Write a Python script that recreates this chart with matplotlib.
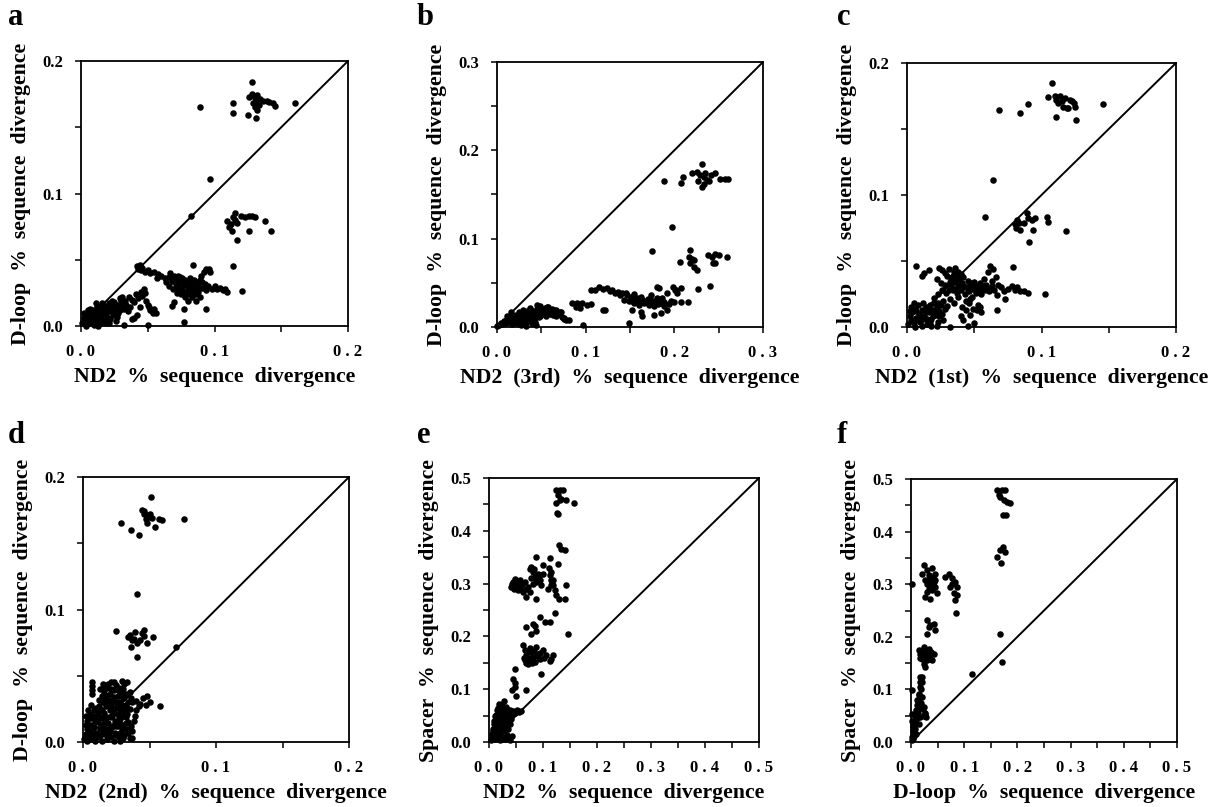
import numpy as np
import matplotlib.pyplot as plt
from matplotlib.ticker import MultipleLocator

plt.rcParams['font.family'] = ['Liberation Serif', 'DejaVu Serif']
plt.rcParams['font.weight'] = 'bold'

W, H = 1219, 807

# ---------- data (x, y) ----------
a_pts = [
    # top cluster
    (0.128, 0.184), (0.089, 0.165), (0.114, 0.168), (0.114, 0.161), (0.125, 0.159), (0.131, 0.157),
    (0.160, 0.168), (0.126, 0.173), (0.128, 0.175), (0.130, 0.172), (0.131, 0.170), (0.132, 0.174),
    (0.134, 0.171), (0.129, 0.168), (0.130, 0.165), (0.133, 0.167), (0.136, 0.170), (0.139, 0.170),
    (0.141, 0.169), (0.144, 0.168), (0.145, 0.166), (0.132, 0.163),
    (0.097, 0.111), (0.0825, 0.083),
    # middle cluster
    (0.109, 0.0795), (0.112, 0.077), (0.111, 0.0745), (0.114, 0.082), (0.1155, 0.085), (0.117, 0.078),
    (0.113, 0.072), (0.117, 0.065), (0.123, 0.082), (0.1255, 0.083), (0.128, 0.083), (0.130, 0.0825),
    (0.126, 0.0715), (0.138, 0.079), (0.142, 0.072), (0.115, 0.080), (0.120, 0.083),
    (0.114, 0.045), (0.1205, 0.0265), (0.084, 0.046),
    # band along diagonal
    (0.042, 0.045), (0.043, 0.043), (0.044, 0.046), (0.045, 0.042), (0.046, 0.044), (0.048, 0.041),
    (0.050, 0.042), (0.052, 0.040), (0.055, 0.041), (0.058, 0.039), (0.060, 0.038), (0.057, 0.036),
    # main blob
    (0.063, 0.036), (0.066, 0.037), (0.068, 0.034), (0.070, 0.038), (0.071, 0.032), (0.072, 0.035),
    (0.073, 0.030), (0.074, 0.037), (0.075, 0.033), (0.076, 0.028), (0.077, 0.031), (0.078, 0.035),
    (0.079, 0.026), (0.080, 0.030), (0.081, 0.033), (0.082, 0.028), (0.083, 0.031), (0.084, 0.025),
    (0.085, 0.029), (0.086, 0.033), (0.087, 0.027), (0.088, 0.030), (0.089, 0.035), (0.090, 0.038),
    (0.091, 0.029), (0.092, 0.041), (0.093, 0.032), (0.094, 0.043), (0.095, 0.030), (0.096, 0.043),
    (0.066, 0.030), (0.069, 0.028), (0.072, 0.025), (0.075, 0.024), (0.078, 0.022), (0.081, 0.024),
    (0.083, 0.022), (0.086, 0.024), (0.089, 0.022),
    (0.064, 0.033), (0.067, 0.040), (0.070, 0.034), (0.073, 0.038), (0.076, 0.036), (0.079, 0.033),
    (0.082, 0.036), (0.085, 0.035), (0.088, 0.026), (0.091, 0.033), (0.094, 0.027), (0.097, 0.041),
    (0.071, 0.028), (0.074, 0.027), (0.077, 0.025), (0.080, 0.027), (0.084, 0.028),
    (0.098, 0.028), (0.100, 0.030), (0.102, 0.028), (0.104, 0.029), (0.106, 0.027), (0.108, 0.028),
    (0.109, 0.026),
    (0.070, 0.018), (0.077, 0.013), (0.080, 0.019), (0.086, 0.019), (0.094, 0.013), (0.077, 0.003),
    (0.068, 0.015),
    # second blob
    (0.036, 0.022), (0.038, 0.020), (0.040, 0.018), (0.041, 0.024), (0.043, 0.021), (0.045, 0.026),
    (0.046, 0.023), (0.047, 0.028), (0.048, 0.025), (0.049, 0.019), (0.050, 0.016), (0.051, 0.014),
    (0.052, 0.012), (0.053, 0.011), (0.054, 0.010), (0.055, 0.013), (0.056, 0.010), (0.044, 0.014),
    (0.042, 0.008), (0.040, 0.006), (0.038, 0.005), (0.050, 0.001), (0.032, 0.001), (0.034, 0.016),
    (0.030, 0.019), (0.032, 0.013),
    # near origin
    (0.001, 0.002), (0.002, 0.006), (0.003, 0.004), (0.004, 0.007), (0.005, 0.002), (0.006, 0.005),
    (0.007, 0.008), (0.008, 0.003), (0.009, 0.006), (0.010, 0.009), (0.011, 0.004), (0.012, 0.012),
    (0.013, 0.007), (0.014, 0.010), (0.015, 0.014), (0.016, 0.006), (0.017, 0.011), (0.018, 0.015),
    (0.019, 0.009), (0.020, 0.013), (0.021, 0.017), (0.022, 0.011), (0.023, 0.015), (0.024, 0.008),
    (0.025, 0.018), (0.026, 0.013), (0.027, 0.016), (0.028, 0.010), (0.029, 0.021), (0.012, 0.015),
    (0.010, 0.001), (0.014, 0.002), (0.018, 0.004), (0.022, 0.005), (0.026, 0.004), (0.004, 0.000),
    (0.008, 0.010), (0.016, 0.017), (0.020, 0.006), (0.013, 0.000),
    (0.003, 0.009), (0.006, 0.010), (0.009, 0.012), (0.011, 0.008), (0.015, 0.009), (0.019, 0.012),
    (0.023, 0.019), (0.027, 0.007), (0.025, 0.011), (0.017, 0.003), (0.021, 0.002), (0.030, 0.015),
    (0.033, 0.019), (0.029, 0.012),
    (0.002, 0.010), (0.005, 0.012), (0.007, 0.013), (0.011, 0.017), (0.015, 0.004), (0.019, 0.002),
    (0.024, 0.012), (0.031, 0.022), (0.035, 0.011), (0.037, 0.014),
]

b_pts = [
    (0.188, 0.165), (0.197, 0.1135), (0.175, 0.086),
    (0.210, 0.170), (0.208, 0.163), (0.220, 0.174), (0.231, 0.185), (0.229, 0.172), (0.225, 0.176),
    (0.233, 0.170), (0.235, 0.174), (0.231, 0.158), (0.237, 0.166), (0.241, 0.172), (0.239, 0.165),
    (0.246, 0.174), (0.252, 0.168), (0.227, 0.165), (0.261, 0.168), (0.257, 0.168), (0.233, 0.162),
    (0.218, 0.087), (0.216, 0.079), (0.220, 0.0775), (0.222, 0.0757), (0.218, 0.072), (0.2065, 0.074),
    (0.222, 0.068), (0.2255, 0.064), (0.2385, 0.081), (0.242, 0.079), (0.246, 0.083), (0.250, 0.082),
    (0.244, 0.072), (0.259, 0.079), (0.246, 0.073),
    (0.240, 0.0465), (0.227, 0.0435), (0.198, 0.045), (0.201, 0.042), (0.183, 0.0445),
    # long band
    (0.106, 0.042), (0.115, 0.0457), (0.124, 0.044), (0.130, 0.042), (0.136, 0.040), (0.141, 0.038),
    (0.147, 0.036), (0.151, 0.034), (0.1545, 0.0325), (0.158, 0.0305), (0.162, 0.0287), (0.168, 0.0287),
    (0.173, 0.0305), (0.177, 0.027), (0.183, 0.0305), (0.186, 0.0325), (0.188, 0.0287), (0.192, 0.038),
    (0.200, 0.0287), (0.207, 0.0287), (0.215, 0.0287), (0.181, 0.0457), (0.2015, 0.042), (0.207, 0.0438),
    (0.2035, 0.038), (0.110, 0.042), (0.119, 0.043), (0.145, 0.039), (0.155, 0.037),
    (0.143, 0.031), (0.149, 0.030), (0.155, 0.027), (0.160, 0.025), (0.166, 0.027), (0.171, 0.025),
    (0.177, 0.024), (0.182, 0.026), (0.188, 0.024), (0.194, 0.026), (0.162, 0.034), (0.170, 0.032),
    (0.174, 0.036), (0.164, 0.031), (0.127, 0.041), (0.133, 0.039), (0.139, 0.036), (0.152, 0.029),
    (0.158, 0.033), (0.166, 0.030), (0.176, 0.029), (0.180, 0.033), (0.185, 0.027), (0.196, 0.030),
    (0.1525, 0.019), (0.162, 0.0173), (0.164, 0.0124), (0.177, 0.0135), (0.1845, 0.0154), (0.192, 0.019),
    (0.149, 0.004), (0.119, 0.019), (0.122, 0.019), (0.097, 0.002),
    (0.085, 0.0267), (0.0906, 0.0275), (0.096, 0.0267), (0.102, 0.0248), (0.1056, 0.026), (0.094, 0.021),
    (0.0887, 0.023),
    # left blob
    (0.002, 0.002), (0.004, 0.005), (0.006, 0.003), (0.008, 0.007), (0.010, 0.004), (0.012, 0.009),
    (0.014, 0.006), (0.015, 0.012), (0.017, 0.003), (0.018, 0.010), (0.020, 0.007), (0.021, 0.014),
    (0.022, 0.004), (0.024, 0.011), (0.025, 0.017), (0.026, 0.008), (0.027, 0.002), (0.028, 0.013),
    (0.029, 0.019), (0.030, 0.006), (0.031, 0.016), (0.032, 0.010), (0.033, 0.001), (0.034, 0.018),
    (0.035, 0.013), (0.036, 0.007), (0.037, 0.021), (0.038, 0.015), (0.039, 0.004), (0.040, 0.011),
    (0.041, 0.018), (0.042, 0.008), (0.043, 0.014), (0.044, 0.002), (0.045, 0.020), (0.046, 0.016),
    (0.047, 0.011), (0.048, 0.024), (0.049, 0.013), (0.050, 0.018), (0.052, 0.015), (0.054, 0.021),
    (0.055, 0.012), (0.057, 0.018), (0.058, 0.023), (0.060, 0.015), (0.062, 0.020), (0.064, 0.017),
    (0.066, 0.012), (0.067, 0.019), (0.069, 0.015), (0.071, 0.017), (0.073, 0.011), (0.075, 0.009),
    (0.078, 0.008), (0.016, 0.017), (0.011, 0.013), (0.0455, 0.025), (0.0568, 0.023), (0.064, 0.019),
    (0.072, 0.0173), (0.0756, 0.0098), (0.081, 0.008), (0.000, 0.001),
    (0.023, 0.008), (0.028, 0.009), (0.033, 0.006), (0.038, 0.010), (0.043, 0.006), (0.053, 0.019),
    (0.059, 0.019), (0.063, 0.014),
]

c_pts = [
    (0.108, 0.185), (0.0686, 0.1646), (0.084, 0.162), (0.090, 0.169), (0.105, 0.174), (0.110, 0.1747),
    (0.111, 0.172), (0.1125, 0.1696), (0.111, 0.159), (0.115, 0.171), (0.116, 0.167), (0.1188, 0.166),
    (0.1225, 0.171), (0.124, 0.1696), (0.125, 0.167), (0.126, 0.1565), (0.146, 0.169), (0.1138, 0.1747),
    (0.1175, 0.1734), (0.121, 0.172), (0.120, 0.166),
    (0.0643, 0.1114), (0.0579, 0.0835),
    (0.0815, 0.081), (0.083, 0.0785), (0.081, 0.0747), (0.084, 0.0734), (0.089, 0.086), (0.090, 0.0823),
    (0.0927, 0.081), (0.095, 0.0823), (0.094, 0.0734), (0.091, 0.0646), (0.104, 0.0835), (0.105, 0.0797),
    (0.118, 0.0727), (0.087, 0.079), (0.080, 0.078),
    (0.079, 0.0456), (0.1026, 0.0253),
    # left dense
    (0.001, 0.002), (0.002, 0.008), (0.003, 0.005), (0.004, 0.011), (0.005, 0.003), (0.006, 0.014),
    (0.007, 0.007), (0.008, 0.017), (0.009, 0.010), (0.010, 0.004), (0.011, 0.013), (0.012, 0.018),
    (0.013, 0.008), (0.014, 0.015), (0.015, 0.002), (0.016, 0.011), (0.017, 0.017), (0.018, 0.006),
    (0.019, 0.013), (0.020, 0.018), (0.021, 0.009), (0.022, 0.015), (0.023, 0.004), (0.024, 0.012),
    (0.025, 0.017), (0.006, 0.000), (0.015, 0.006), (0.022, 0.001),
    (0.003, 0.015), (0.005, 0.018), (0.008, 0.006), (0.011, 0.001), (0.014, 0.011), (0.017, 0.004),
    (0.020, 0.012), (0.023, 0.018), (0.026, 0.010), (0.028, 0.014),
    (0.002, 0.012), (0.007, 0.012), (0.012, 0.006), (0.016, 0.015), (0.019, 0.008), (0.024, 0.008),
    (0.027, 0.005), (0.018, 0.001), (0.010, 0.008),
    # mid dense
    (0.007, 0.046), (0.011, 0.039), (0.013, 0.041), (0.016, 0.043), (0.022, 0.036), (0.024, 0.045),
    (0.026, 0.043), (0.028, 0.041), (0.030, 0.039), (0.031, 0.044), (0.033, 0.037), (0.035, 0.042),
    (0.036, 0.034), (0.037, 0.040), (0.038, 0.031), (0.039, 0.036), (0.040, 0.028), (0.041, 0.033),
    (0.042, 0.038), (0.043, 0.025), (0.044, 0.030), (0.045, 0.035), (0.046, 0.027), (0.047, 0.032),
    (0.048, 0.023), (0.049, 0.029), (0.050, 0.034), (0.051, 0.026), (0.052, 0.031), (0.053, 0.028),
    (0.054, 0.033), (0.055, 0.025), (0.056, 0.030), (0.057, 0.036), (0.058, 0.028), (0.059, 0.032),
    (0.060, 0.042), (0.061, 0.027), (0.062, 0.046), (0.063, 0.031), (0.064, 0.044), (0.065, 0.028),
    (0.066, 0.038), (0.067, 0.024), (0.068, 0.032), (0.032, 0.021), (0.035, 0.018), (0.038, 0.023),
    (0.041, 0.015), (0.044, 0.020), (0.027, 0.020), (0.030, 0.016), (0.029, 0.026), (0.034, 0.028),
    (0.037, 0.026),
    (0.031, 0.028), (0.033, 0.031), (0.036, 0.029), (0.039, 0.032), (0.042, 0.031), (0.045, 0.029),
    (0.048, 0.033), (0.051, 0.030), (0.054, 0.028), (0.057, 0.031), (0.060, 0.029), (0.063, 0.035),
    (0.046, 0.018), (0.049, 0.014), (0.053, 0.017), (0.047, 0.021),
    (0.020, 0.022), (0.023, 0.025), (0.026, 0.028), (0.028, 0.032), (0.025, 0.033), (0.032, 0.034),
    (0.034, 0.039), (0.038, 0.042), (0.040, 0.040), (0.036, 0.045),
    (0.070, 0.030), (0.072, 0.027), (0.075, 0.029), (0.078, 0.031), (0.080, 0.028), (0.082, 0.030),
    (0.084, 0.027), (0.087, 0.027), (0.090, 0.026), (0.073, 0.021), (0.067, 0.013),
    (0.052, 0.013), (0.054, 0.015), (0.055, 0.011), (0.047, 0.009), (0.042, 0.005), (0.044, 0.013),
    (0.050, 0.003), (0.032, 0.000), (0.045, 0.001), (0.040, 0.008),
]

d_pts = [
    (0.051, 0.185), (0.0285, 0.165), (0.036, 0.160), (0.042, 0.1566), (0.044, 0.175), (0.0455, 0.172),
    (0.048, 0.171), (0.047, 0.1686), (0.0493, 0.170), (0.0506, 0.172), (0.048, 0.165), (0.0543, 0.162),
    (0.057, 0.1686), (0.0593, 0.1674), (0.0763, 0.1686), (0.052, 0.169), (0.046, 0.174),
    (0.0405, 0.1114), (0.0248, 0.0838),
    (0.034, 0.0795), (0.0356, 0.0808), (0.037, 0.077), (0.038, 0.078), (0.039, 0.083), (0.0405, 0.0745),
    (0.043, 0.077), (0.044, 0.082), (0.0456, 0.0846), (0.046, 0.080), (0.048, 0.0745), (0.0526, 0.0795),
    (0.0405, 0.0645), (0.036, 0.072), (0.070, 0.072),
    # streak and upper dense
    (0.007, 0.045), (0.007, 0.042), (0.007, 0.039), (0.007, 0.036),
    (0.013, 0.040), (0.015, 0.044), (0.016, 0.037), (0.017, 0.033), (0.018, 0.041), (0.019, 0.029),
    (0.020, 0.036), (0.021, 0.045), (0.022, 0.032), (0.023, 0.039), (0.024, 0.026), (0.025, 0.043),
    (0.026, 0.035), (0.027, 0.030), (0.028, 0.038), (0.029, 0.024), (0.030, 0.033), (0.031, 0.044),
    (0.032, 0.028), (0.033, 0.036), (0.034, 0.030), (0.035, 0.038), (0.013, 0.025), (0.015, 0.030),
    (0.016, 0.022), (0.018, 0.019), (0.020, 0.024), (0.022, 0.020), (0.024, 0.016), (0.026, 0.021),
    (0.028, 0.017), (0.030, 0.013), (0.032, 0.019), (0.034, 0.015), (0.036, 0.012), (0.038, 0.016),
    (0.033, 0.045), (0.036, 0.033),
    (0.003, 0.016), (0.005, 0.021), (0.006, 0.003), (0.009, 0.016), (0.010, 0.026), (0.012, 0.019),
    (0.014, 0.024), (0.015, 0.008), (0.017, 0.027), (0.019, 0.005), (0.021, 0.028), (0.023, 0.022),
    (0.025, 0.030), (0.027, 0.019), (0.029, 0.028), (0.031, 0.023), (0.033, 0.026), (0.014, 0.035),
    (0.016, 0.040), (0.019, 0.044), (0.023, 0.045), (0.027, 0.041), (0.029, 0.046), (0.025, 0.012),
    (0.028, 0.001), (0.032, 0.014), (0.012, 0.032), (0.018, 0.031), (0.022, 0.026), (0.026, 0.039),
    (0.030, 0.040),
    (0.002, 0.020), (0.004, 0.024), (0.006, 0.028), (0.008, 0.024), (0.010, 0.019), (0.012, 0.027),
    (0.014, 0.018), (0.016, 0.030), (0.018, 0.035), (0.020, 0.030), (0.021, 0.040), (0.023, 0.034),
    (0.024, 0.040), (0.026, 0.027), (0.028, 0.024), (0.030, 0.020), (0.031, 0.036), (0.033, 0.021),
    (0.035, 0.025), (0.037, 0.030), (0.039, 0.020), (0.006, 0.018), (0.009, 0.004), (0.013, 0.005),
    (0.017, 0.015), (0.021, 0.019), (0.025, 0.005), (0.028, 0.007), (0.030, 0.003), (0.034, 0.007),
    (0.003, 0.001), (0.015, 0.019), (0.019, 0.010), (0.023, 0.013), (0.027, 0.015),
    (0.040, 0.031), (0.043, 0.029), (0.045, 0.033), (0.047, 0.028), (0.048, 0.035), (0.050, 0.030),
    (0.058, 0.027), (0.040, 0.024), (0.042, 0.027),
    # lower dense
    (0.001, 0.002), (0.002, 0.006), (0.003, 0.010), (0.004, 0.003), (0.005, 0.008), (0.006, 0.013),
    (0.007, 0.005), (0.008, 0.011), (0.009, 0.001), (0.010, 0.007), (0.011, 0.015), (0.012, 0.004),
    (0.013, 0.010), (0.014, 0.001), (0.015, 0.013), (0.016, 0.006), (0.017, 0.010), (0.018, 0.002),
    (0.019, 0.014), (0.020, 0.008), (0.021, 0.004), (0.022, 0.011), (0.023, 0.001), (0.024, 0.007),
    (0.026, 0.012), (0.027, 0.004), (0.029, 0.009), (0.031, 0.005), (0.033, 0.010), (0.035, 0.003),
    (0.037, 0.008), (0.002, 0.013), (0.004, 0.018), (0.008, 0.020), (0.011, 0.022), (0.0366, 0.003),
]

e_pts = [
    (0.1247, 0.4766), (0.131, 0.478), (0.137, 0.4766), (0.128, 0.467), (0.134, 0.461), (0.131, 0.4577),
    (0.1247, 0.4527), (0.143, 0.4577), (0.157, 0.4533), (0.128, 0.431), (0.126, 0.433),
    (0.1296, 0.3725), (0.1327, 0.366), (0.140, 0.363), (0.128, 0.3378),
    (0.0877, 0.350), (0.1123, 0.349), (0.100, 0.3346), (0.1154, 0.322), (0.0753, 0.328),
    # 0.3 level
    (0.041, 0.2936), (0.0444, 0.303), (0.047, 0.290), (0.0506, 0.2967), (0.0537, 0.287), (0.0568, 0.306),
    (0.060, 0.297), (0.063, 0.284), (0.066, 0.303), (0.068, 0.2746), (0.072, 0.2936), (0.0753, 0.284),
    (0.043, 0.300), (0.049, 0.308), (0.058, 0.292), (0.046, 0.296), (0.052, 0.301), (0.056, 0.294),
    (0.062, 0.300), (0.069, 0.289),
    (0.0784, 0.331), (0.0815, 0.322), (0.0846, 0.3125), (0.0877, 0.303), (0.0907, 0.319), (0.0938, 0.306),
    (0.097, 0.2967), (0.0815, 0.2999), (0.0864, 0.2715), (0.100, 0.319), (0.084, 0.328), (0.088, 0.315),
    (0.092, 0.310), (0.078, 0.310),
    (0.1123, 0.3157), (0.1154, 0.306), (0.1185, 0.2967), (0.1216, 0.287), (0.1247, 0.2778), (0.1296, 0.270),
    (0.140, 0.2715), (0.143, 0.2967), (0.109, 0.290), (0.119, 0.306), (0.112, 0.330), (0.114, 0.298),
    (0.1216, 0.245),
    # 0.2 level
    (0.069, 0.2178), (0.0815, 0.224), (0.0938, 0.2367), (0.103, 0.227), (0.1123, 0.227), (0.078, 0.205),
    (0.0877, 0.211), (0.146, 0.205), (0.085, 0.220),
    # 0.16 level
    (0.063, 0.183), (0.066, 0.1736), (0.069, 0.164), (0.072, 0.1547), (0.075, 0.178), (0.078, 0.170),
    (0.0815, 0.161), (0.0846, 0.1515), (0.0877, 0.180), (0.0907, 0.167), (0.0938, 0.158), (0.100, 0.1736),
    (0.106, 0.164), (0.1154, 0.158), (0.1185, 0.164), (0.1123, 0.153), (0.097, 0.129), (0.068, 0.150),
    (0.073, 0.148), (0.065, 0.160), (0.084, 0.172), (0.079, 0.150), (0.070, 0.170), (0.076, 0.160),
    (0.088, 0.162), (0.095, 0.168), (0.102, 0.160), (0.066, 0.155),
    (0.0475, 0.139), (0.0444, 0.120), (0.0475, 0.104), (0.0506, 0.088), (0.043, 0.098), (0.069, 0.098),
    (0.048, 0.112),
    # near origin
    (0.003, 0.003), (0.006, 0.010), (0.008, 0.020), (0.010, 0.006), (0.012, 0.030), (0.013, 0.016),
    (0.015, 0.045), (0.016, 0.008), (0.018, 0.038), (0.019, 0.024), (0.020, 0.055), (0.021, 0.013),
    (0.022, 0.062), (0.023, 0.032), (0.024, 0.070), (0.025, 0.020), (0.026, 0.048), (0.027, 0.078),
    (0.028, 0.040), (0.029, 0.005), (0.030, 0.058), (0.031, 0.028), (0.032, 0.066), (0.033, 0.014),
    (0.035, 0.050), (0.036, 0.036), (0.038, 0.060), (0.040, 0.044), (0.042, 0.052), (0.045, 0.058),
    (0.048, 0.055), (0.052, 0.060), (0.056, 0.057), (0.060, 0.059), (0.038, 0.004), (0.042, 0.012),
    (0.013, 0.052), (0.018, 0.072), (0.009, 0.035), (0.034, 0.042),
    (0.005, 0.015), (0.007, 0.025), (0.010, 0.040), (0.011, 0.050), (0.014, 0.060), (0.017, 0.064),
    (0.020, 0.045), (0.022, 0.035), (0.024, 0.055), (0.026, 0.062), (0.029, 0.050), (0.031, 0.045),
    (0.033, 0.055), (0.012, 0.010), (0.016, 0.020), (0.020, 0.003), (0.027, 0.010), (0.030, 0.022),
    (0.035, 0.025), (0.038, 0.035),
]

f_pts = [
    (0.161, 0.479), (0.171, 0.479), (0.177, 0.479), (0.166, 0.4695), (0.174, 0.460), (0.180, 0.457),
    (0.186, 0.4537), (0.168, 0.465), (0.1725, 0.4315), (0.179, 0.4315),
    (0.1725, 0.371), (0.1675, 0.365), (0.177, 0.3617), (0.161, 0.352), (0.169, 0.3395),
    (0.1675, 0.206), (0.1706, 0.152), (0.114, 0.1288),
    # 0.3 level
    (0.024, 0.336), (0.030, 0.327), (0.0206, 0.320), (0.027, 0.3077), (0.036, 0.314), (0.033, 0.298),
    (0.0425, 0.3046), (0.0456, 0.320), (0.039, 0.2887), (0.0456, 0.295), (0.049, 0.2824), (0.027, 0.276),
    (0.036, 0.2728), (0.030, 0.285), (0.039, 0.330), (0.002, 0.301), (0.033, 0.318), (0.041, 0.312),
    (0.030, 0.300), (0.036, 0.305), (0.042, 0.296), (0.046, 0.308), (0.034, 0.290),
    (0.0644, 0.314), (0.0706, 0.320), (0.077, 0.311), (0.083, 0.3046), (0.086, 0.295), (0.0738, 0.295),
    (0.080, 0.2824), (0.086, 0.279), (0.083, 0.270), (0.0844, 0.246), (0.078, 0.300),
    # 0.2 level
    (0.030, 0.2316), (0.036, 0.222), (0.0425, 0.225), (0.0456, 0.2125), (0.030, 0.206), (0.033, 0.218),
    # 0.16 level
    (0.0144, 0.1745), (0.0175, 0.168), (0.0206, 0.1586), (0.024, 0.149), (0.027, 0.1428), (0.030, 0.168),
    (0.033, 0.1777), (0.036, 0.165), (0.039, 0.1555), (0.0425, 0.168), (0.024, 0.181), (0.027, 0.162),
    (0.020, 0.170), (0.034, 0.158), (0.025, 0.172), (0.030, 0.156), (0.038, 0.172), (0.017, 0.160),
    # streak to origin
    (0.0175, 0.124), (0.0206, 0.114), (0.0175, 0.105), (0.0144, 0.092), (0.011, 0.079), (0.0175, 0.073),
    (0.024, 0.0666), (0.027, 0.054), (0.011, 0.057), (0.008, 0.041), (0.0144, 0.035), (0.005, 0.022),
    (0.010, 0.016), (0.004, 0.006), (0.0175, 0.0476), (0.002, 0.054), (0.002, 0.098),
    (0.001, 0.003), (0.002, 0.010), (0.003, 0.020), (0.004, 0.030), (0.005, 0.040), (0.006, 0.012),
    (0.007, 0.050), (0.008, 0.025), (0.009, 0.060), (0.010, 0.035), (0.011, 0.070), (0.012, 0.045),
    (0.013, 0.080), (0.014, 0.055), (0.015, 0.090), (0.016, 0.065), (0.018, 0.100), (0.019, 0.075),
    (0.020, 0.085), (0.022, 0.062), (0.024, 0.050), (0.026, 0.055), (0.028, 0.048), (0.017, 0.115),
    (0.020, 0.124), (0.001, 0.040),
]

letters = ['a', 'b', 'c', 'd', 'e', 'f']
limits = [0.2, 0.3, 0.2, 0.2, 0.5, 0.5]
xlabels = ['ND2  %  sequence  divergence',
           'ND2  (3rd)  %  sequence  divergence',
           'ND2  (1st)  %  sequence  divergence',
           'ND2  (2nd)  %  sequence  divergence',
           'ND2  %  sequence  divergence',
           'D-loop  %  sequence  divergence']
ylabels = ['D-loop  %  sequence  divergence'] * 4 + ['Spacer  %  sequence  divergence'] * 2
all_pts = [a_pts, b_pts, c_pts, d_pts, e_pts, f_pts]

# axes boxes in pixels: left, top, right, bottom
boxes = [(81, 61, 348, 326), (497, 62, 763, 327), (907, 63, 1176, 327),
         (83, 477, 349, 742), (489, 478, 759, 742), (911, 479, 1177, 742)]
letter_pos = [(8, 25), (417, 25), (837, 25), (8, 443), (417, 443), (837, 443)]

fig = plt.figure(figsize=(W / 100, H / 100), dpi=100)

for i in range(6):
    l, t, r, b = boxes[i]
    ax = fig.add_axes([l / W, 1 - b / H, (r - l) / W, (b - t) / H])
    lim = limits[i]
    x, y = np.array(all_pts[i]).T
    ax.plot([0, lim], [0, lim], color='black', lw=1.4, zorder=2)
    ax.scatter(x, y, s=22, c='black', linewidths=0, clip_on=False, zorder=3)
    ax.set_xlim(0, lim)
    ax.set_ylim(0, lim)
    ticks = np.round(np.arange(0, lim + 0.001, 0.1), 1)
    ax.set_xticks(ticks)
    ax.set_yticks(ticks)
    ax.set_xticklabels([' . '.join(f'{v:.1f}'.split('.')) for v in ticks])
    ax.set_yticklabels([f'{v:.1f}' for v in ticks])
    ax.xaxis.set_minor_locator(MultipleLocator(0.05))
    ax.yaxis.set_minor_locator(MultipleLocator(0.05))
    ax.tick_params(which='both', direction='out', length=4, width=1.1, top=False, right=False)
    ax.tick_params(axis='both', which='major', pad=9, labelsize=12)
    for sp in ax.spines.values():
        sp.set_linewidth(1.3)
    ax.set_xlabel(xlabels[i], fontsize=15.7, fontweight='bold', labelpad=5)
    ax.set_ylabel(ylabels[i], fontsize=15.7, fontweight='bold', labelpad=8)
    lx, ly = letter_pos[i]
    fig.text(lx / W, 1 - ly / H, letters[i], fontsize=22, fontweight='bold', va='baseline', ha='left')

fig.savefig('out.png', dpi=100)
